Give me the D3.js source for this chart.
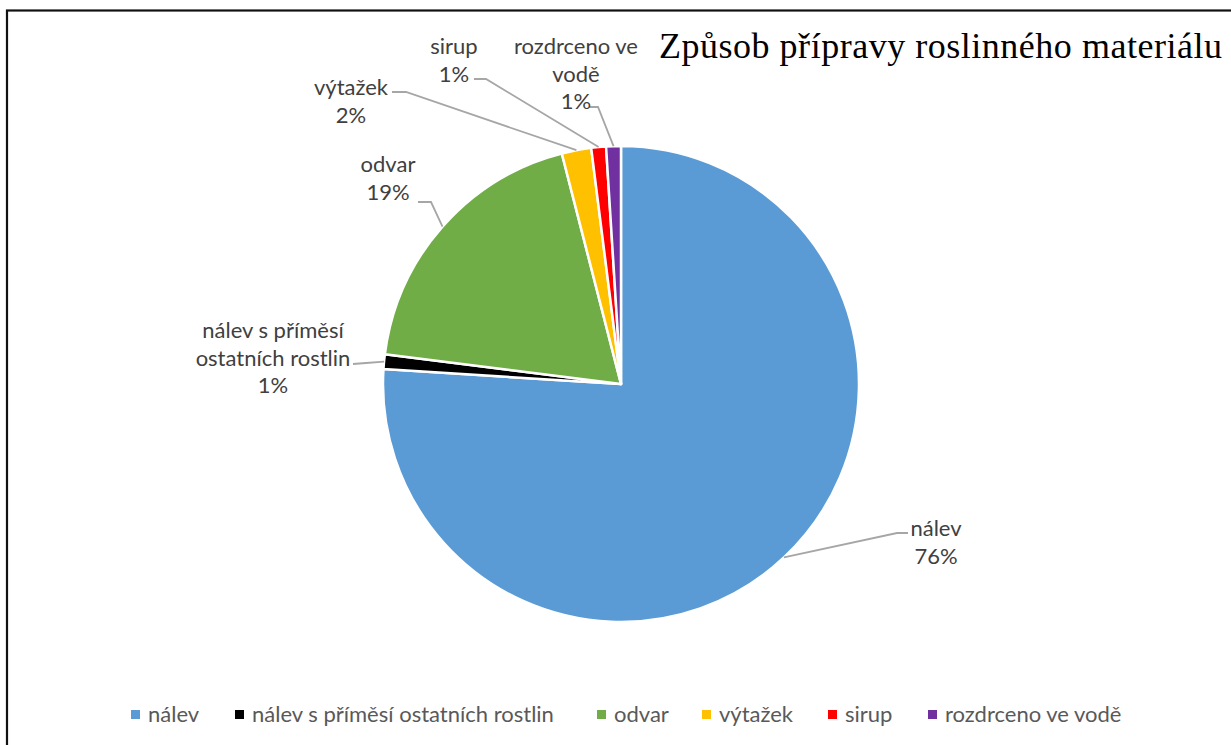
<!DOCTYPE html>
<html>
<head>
<meta charset="utf-8">
<script src="https://cdn.jsdelivr.net/npm/d3@7"></script>
<style>
  html, body { margin: 0; padding: 0; background: #fff; }
  svg { display: block; }
</style>
</head>
<body>
<svg id="chart" width="1231" height="745"></svg>
<script>
// ---- data ----
const categories = ["nálev", "nálev s příměsí ostatních rostlin", "odvar", "výtažek", "sirup", "rozdrceno ve vodě"];
const values = [76, 1, 19, 2, 1, 1];
const percentLabels = ["76%", "1%", "19%", "2%", "1%", "1%"];
const labelLines = [["nálev"], ["nálev s příměsí", "ostatních rostlin"], ["odvar"], ["výtažek"], ["sirup"], ["rozdrceno ve", "vodě"]];
const colors = ["#5B9BD5", "#000000", "#70AD47", "#FFC000", "#FF0000", "#7030A0"];
const title = "Způsob přípravy roslinného materiálu";

// ---- layout (positions only) ----
const cx = 621, cy = 384, R = 238;
const labelLayout = [
  { x: 936, y: 536, from: [908, 533], elbow: [897, 533] },
  { x: 273, y: 338, from: [353, 364], elbow: [366, 363] },
  { x: 388, y: 172, from: [418, 202], elbow: [431, 202] },
  { x: 351, y: 95,  from: [392, 92],  elbow: [406, 92] },
  { x: 454, y: 54,  from: [474, 79],  elbow: [486, 79] },
  { x: 576, y: 54,  from: [589, 107], elbow: [598, 107] }
];
const legendX = [131, 235, 597, 702, 828, 928];
const lineH = 27.5;
const labelFont = "Lato, 'Open Sans', sans-serif";
const labelSize = 22;

const svg = d3.select("#chart");

// frame
svg.append("rect").attr("x", 7).attr("y", 10.5).attr("width", 1240).attr("height", 760)
  .attr("fill", "#fff").attr("stroke", "#111").attr("stroke-width", 2.2);

// title
svg.append("text").attr("x", 659).attr("y", 58)
  .attr("font-family", "'Liberation Serif', 'Times New Roman', serif")
  .attr("font-size", 36).attr("fill", "#000")
  .attr("textLength", 563).attr("lengthAdjust", "spacing")
  .text(title);

const data = categories.map((c, i) => ({ name: c, value: values[i], i }));
const pie = d3.pie().value(d => d.value).sort(null);
const arcs = pie(data);
const arc = d3.arc().innerRadius(0).outerRadius(R);
const edge = d3.arc().innerRadius(R).outerRadius(R);

const g = svg.append("g").attr("transform", `translate(${cx},${cy})`);
g.selectAll("path.slice").data(arcs).join("path")
  .attr("class", "slice")
  .attr("d", arc)
  .attr("fill", d => colors[d.data.i])
  .attr("stroke", "#fff").attr("stroke-width", 2.5).attr("stroke-linejoin", "round");

// leader lines
arcs.forEach(d => {
  const L = labelLayout[d.data.i];
  const p = edge.centroid(d);
  const pts = [L.from, L.elbow, [p[0] + cx, p[1] + cy]];
  svg.append("path")
    .attr("d", d3.line()(pts))
    .attr("fill", "none").attr("stroke", "#A6A6A6").attr("stroke-width", 1.8);
});

// data labels
arcs.forEach(d => {
  const i = d.data.i;
  const L = labelLayout[i];
  const lines = labelLines[i].concat([percentLabels[i]]);
  const t = svg.append("text")
    .attr("font-family", labelFont)
    .attr("font-size", labelSize).attr("fill", "#404040").attr("text-anchor", "middle");
  lines.forEach((ln, k) => {
    t.append("tspan").attr("x", L.x).attr("y", L.y + k * lineH).text(ln);
  });
});

// legend
const leg = svg.append("g");
categories.forEach((c, i) => {
  leg.append("rect").attr("x", legendX[i]).attr("y", 710).attr("width", 9).attr("height", 9)
    .attr("fill", colors[i]);
  leg.append("text").attr("x", legendX[i] + 17).attr("y", 722)
    .attr("font-family", labelFont)
    .attr("font-size", labelSize).attr("fill", "#595959")
    .text(c);
});
</script>
</body>
</html>
